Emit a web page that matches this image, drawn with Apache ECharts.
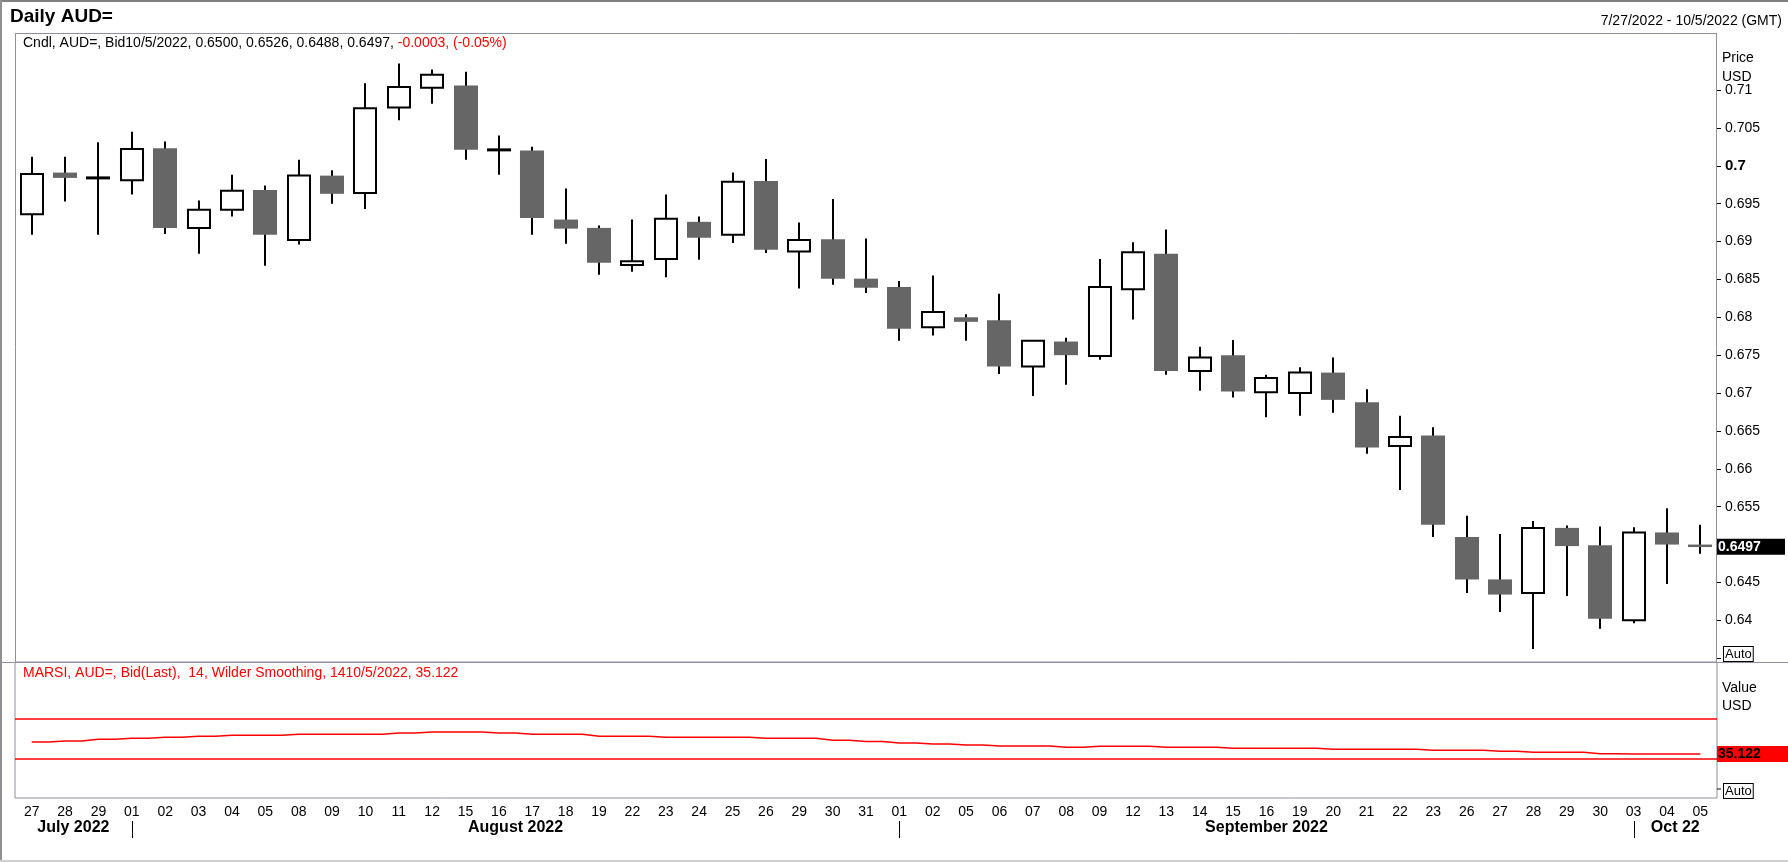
<!DOCTYPE html>
<html><head><meta charset="utf-8">
<script src="https://cdn.jsdelivr.net/npm/echarts@6/dist/echarts.min.js"></script>
<style>html,body{margin:0;padding:0;background:#fff;}#c{width:1788px;height:862px;}</style>
</head><body><div id="c"></div>
<script>
const dates = ['27','28','29','01','02','03','04','05','08','09','10','11','12','15','16','17','18','19','22','23','24','25','26','29','30','31',
  '01','02','05','06','07','08','09','12','13','14','15','16','19','20','21','22','23','26','27','28','29','30','03','04','05'];
const openP  = [0.6936,0.6991,0.6984,0.6981,0.7023,0.6918,0.6942,0.6968,0.6902,0.6987,0.6964,0.7077,0.7103,0.7106,0.7021,0.7020,0.6929,0.6918,0.6869,0.6877,0.6926,0.6909,0.6980,0.6887,0.6903,0.6851,
  0.6840,0.6787,0.6800,0.6796,0.6735,0.6768,0.6749,0.6837,0.6884,0.6729,0.6750,0.6701,0.6700,0.6727,0.6688,0.6630,0.6644,0.6510,0.6454,0.6436,0.6522,0.6499,0.6400,0.6516,0.6500];
const highP  = [0.7012,0.7012,0.7031,0.7045,0.7032,0.6954,0.6988,0.6974,0.7008,0.6994,0.7109,0.7135,0.7127,0.7124,0.7040,0.7025,0.6970,0.6921,0.6929,0.6962,0.6933,0.6991,0.7009,0.6925,0.6956,0.6904,
  0.6848,0.6855,0.6804,0.6831,0.6769,0.6773,0.6877,0.6899,0.6916,0.6761,0.6770,0.6724,0.6734,0.6747,0.6705,0.6670,0.6655,0.6538,0.6514,0.6531,0.6525,0.6524,0.6523,0.6548,0.6526];
const lowP   = [0.6909,0.6953,0.6909,0.6962,0.6910,0.6884,0.6933,0.6868,0.6896,0.6950,0.6943,0.7060,0.7082,0.7008,0.6988,0.6909,0.6897,0.6856,0.6860,0.6853,0.6876,0.6898,0.6885,0.6838,0.6843,0.6832,
  0.6769,0.6776,0.6769,0.6725,0.6696,0.6711,0.6744,0.6797,0.6724,0.6703,0.6694,0.6668,0.6670,0.6674,0.6620,0.6572,0.6510,0.6436,0.6411,0.6362,0.6432,0.6389,0.6396,0.6448,0.6488];
const closeP = [0.6989,0.6984,0.6984,0.7022,0.6918,0.6942,0.6967,0.6909,0.6987,0.6963,0.7076,0.7104,0.7120,0.7021,0.7021,0.6931,0.6917,0.6872,0.6874,0.6930,0.6905,0.6979,0.6889,0.6902,0.6851,0.6839,
  0.6785,0.6807,0.6794,0.6735,0.6769,0.6750,0.6840,0.6886,0.6729,0.6747,0.6702,0.6720,0.6727,0.6691,0.6628,0.6642,0.6526,0.6454,0.6434,0.6522,0.6498,0.6402,0.6516,0.6500,0.6497];
const rsiVals = [47.1,48.1,49.8,50.8,51.8,52.8,53.8,53.8,54.8,54.8,54.8,56.1,57.1,57.1,56.1,54.8,54.8,52.8,52.8,51.8,51.8,51.8,50.8,50.8,48.8,47.4,
  46.1,45.1,44.1,43.1,43.1,41.7,42.7,42.7,41.7,41.7,40.7,40.7,40.7,39.7,39.7,39.7,38.7,38.7,37.7,36.7,36.7,35.2,35.1,35.1,35.122];
const rsiBands = [70, 30];
const monthNames = ['July 2022','August 2022','September 2022','Oct 22'];
const monthStarts = [0, 3, 26, 48];
const lastClose = 0.6497;
const lastRsi = 35.122;

const FF = '"Liberation Sans", Arial, sans-serif';
const chart = echarts.init(document.getElementById('c'), null, {renderer:'canvas'});
const candleData = dates.map((d,i)=>[i, openP[i], closeP[i], lowP[i], highP[i]]);

const option = {
  animation:false,
  backgroundColor:'#fff',
  grid:[
    {left:15, right:71, top:33.2, bottom:203.8, show:false},
    {left:15, right:71, top:662, bottom:64, show:true, borderColor:'#8f8fa0', borderWidth:1, backgroundColor:'transparent'}
  ],
  xAxis:[
    {type:'category', gridIndex:0, data:dates, boundaryGap:true, show:false},
    {type:'category', gridIndex:1, data:dates, boundaryGap:true,
     axisLine:{show:false}, axisTick:{show:false},
     axisLabel:{interval:0, fontSize:14, color:'#000', fontFamily:FF, margin:7}}
  ],
  yAxis:[
    {type:'value', gridIndex:0, position:'right', min:0.635, max:0.7175, interval:0.005,
     splitLine:{show:false}, axisLine:{show:false},
     axisTick:{show:true, length:4, lineStyle:{color:'#000', width:1}},
     axisLabel:{margin:8, fontSize:14, color:'#000', fontFamily:FF,
       formatter:function(v){
         if(v>0.7125||v<0.6375) return '';
         if(Math.abs(v-lastClose)<0.004) return '';
         if(Math.abs(v-0.7)<1e-9) return '{b|0.7}';
         return String(+v.toFixed(3)); },
       rich:{b:{fontWeight:'bold', fontSize:15, color:'#000', fontFamily:FF}}}},
    {type:'value', gridIndex:1, position:'right', min:-9, max:127, show:false}
  ],
  series:[
    {type:'custom', xAxisIndex:0, yAxisIndex:0, data:candleData, encode:{x:0, y:[1,2,3,4]},
     renderItem:function(params, api){
       const i = api.value(0), o = api.value(1), c = api.value(2), l = api.value(3), h = api.value(4);
       const po = api.coord([i,o]), pc = api.coord([i,c]), pl = api.coord([i,l]), ph = api.coord([i,h]);
       const w = api.size([1,0])[0]*0.72;
       const x = Math.round(po[0]);
       const ch = [{type:'line', shape:{x1:x, y1:ph[1], x2:x, y2:pl[1]}, style:{stroke:'#000', lineWidth:2}}];
       const top = Math.min(po[1], pc[1]), bot = Math.max(po[1], pc[1]);
       if (o === c) {
         ch.push({type:'line', shape:{x1:x-w/2, y1:po[1], x2:x+w/2, y2:po[1]}, style:{stroke:'#000', lineWidth:3}});
       } else if (c > o) {
         ch.push({type:'rect', shape:{x:x-w/2+1, y:top, width:w-2, height:bot-top}, style:{fill:'#fff', stroke:'#000', lineWidth:2}});
       } else {
         ch.push({type:'rect', shape:{x:x-w/2, y:top, width:w, height:Math.max(bot-top,2.5)}, style:{fill:'#666666'}});
       }
       return {type:'group', children:ch};
     }},
    {type:'line', xAxisIndex:1, yAxisIndex:1, data:rsiVals, step:'middle', showSymbol:false, symbol:'none',
     lineStyle:{color:'#ff0000', width:1.5},
     markLine:{silent:true, symbol:['none','none'], label:{show:false},
       lineStyle:{color:'#ff0000', width:1.5, type:'solid'},
       data:rsiBands.map(v=>({yAxis:v}))}}
  ]
};
chart.setOption(option);

const cv = document.createElement('canvas').getContext('2d');
function tw(t, f){ cv.font = f; return cv.measureText(t).width; }
const F14 = '14px ' + FF;
const Z = 100;
function line(x1,y1,x2,y2,color,w){ return {type:'line', z:Z, silent:true, shape:{x1,y1,x2,y2}, style:{stroke:color, lineWidth:w||1}}; }
function text(x,y,t,opt){ opt=opt||{}; return {type:'text', z:Z+1, silent:true, x, y, style:Object.assign({text:t, font:F14, fill:'#000', verticalAlign:'middle', align:'left'}, opt)}; }

const g = [];
// outer frame
g.push(line(0,1,1788,1,'#808080',2));
g.push(line(1,0,1,862,'#909090',2));
g.push(line(0,861,1788,861,'#d0d0d0',2));
// cover unused top ticks
g.push({type:'rect', z:Z-1, silent:true, shape:{x:1717, y:29, width:50, height:54}, style:{fill:'#fff'}});
// price panel borders
g.push(line(15,33.5,1717,33.5,'#8f8fa0',1));
g.push(line(15.5,33,15.5,662,'#8f8fa0',1));
g.push(line(1716.5,33,1716.5,662,'#8f8fa0',1));
g.push(line(0,662.5,1788,662.5,'#8f8fa0',1));
// header texts
g.push(text(10,17,'Daily AUD=',{font:'bold 19px '+FF}));
g.push(text(1782,21,'7/27/2022 - 10/5/2022 (GMT)',{align:'right'}));
const blackPart = 'Cndl, AUD=, Bid10/5/2022, 0.6500, 0.6526, 0.6488, 0.6497, ';
g.push(text(23,43,blackPart));
g.push(text(23+tw(blackPart,F14),43,'-0.0003, (-0.05%)',{fill:'#ff0000'}));
g.push(text(1722,58,'Price'));
g.push(text(1722,77,'USD'));
g.push(text(1724,654,'Auto',{font:'13px '+FF, backgroundColor:'#fff', borderColor:'#000', borderWidth:1, padding:[1,1,0,1]}));
// last price box
const yClose = chart.convertToPixel({yAxisIndex:0}, lastClose);
g.push({type:'rect', z:Z, silent:true, shape:{x:1717, y:yClose-8, width:68, height:16}, style:{fill:'#000'}});
g.push(text(1718,yClose,'0.6497',{font:'bold 14px '+FF, fill:'#fff'}));
// RSI panel texts
g.push(text(23,673,'MARSI, AUD=, Bid(Last),  14, Wilder Smoothing, 1410/5/2022, 35.122',{fill:'#ff0000'}));
g.push(text(1722,688,'Value'));
g.push(text(1722,706,'USD'));
const y0 = chart.convertToPixel({yAxisIndex:1}, 0);
g.push(line(1717,y0,1721,y0,'#000',1));
g.push(text(1724,791,'Auto',{font:'13px '+FF, backgroundColor:'#fff', borderColor:'#000', borderWidth:1, padding:[1,1,0,1]}));
const yR = chart.convertToPixel({yAxisIndex:1}, lastRsi);
g.push({type:'rect', z:Z, silent:true, shape:{x:1717, y:yR-8, width:71, height:16}, style:{fill:'#ff0000'}});
g.push(text(1718,yR,'35.122',{font:'bold 14px '+FF, fill:'#000'}));
// month labels and separators
const xs = monthStarts.map(i => chart.convertToPixel({xAxisIndex:1}, i));
const bounds = [15].concat(xs.slice(1)).concat([1717]);
for (let k=1;k<xs.length;k++){ const xx=Math.round(xs[k])+0.5; g.push(line(xx,821,xx,838,'#000',1)); }
for (let k=0;k<monthNames.length;k++){
  const cx = (bounds[k]+bounds[k+1])/2;
  g.push(text(cx,828,monthNames[k],{font:'bold 16px '+FF, align:'center'}));
}
chart.setOption({graphic:{elements:g}});
</script>
</body></html>
